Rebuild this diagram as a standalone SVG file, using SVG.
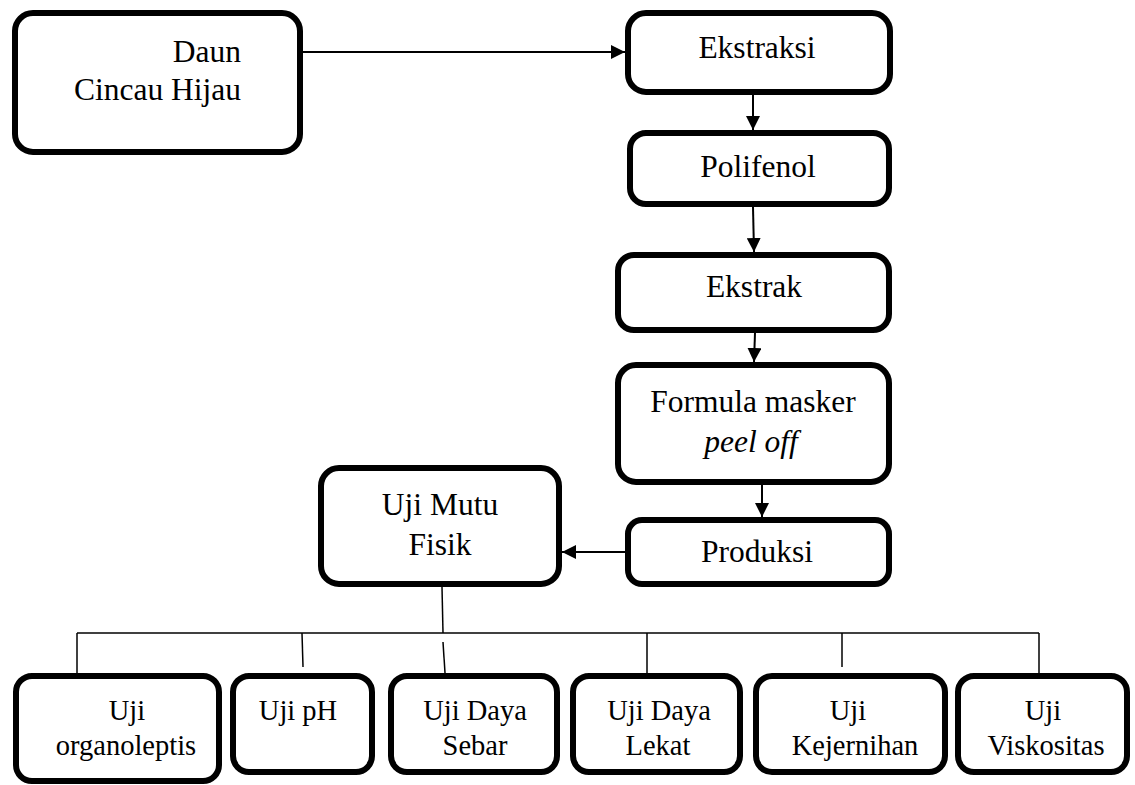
<svg xmlns="http://www.w3.org/2000/svg" width="1135" height="785" viewBox="0 0 1135 785">
<style>
.box{fill:#fff;stroke:#000;stroke-width:6}
text{font-family:'Liberation Serif','DejaVu Serif',serif;fill:#000;text-anchor:middle}
.t{font-size:31.5px}
.s{font-size:28.5px}
.arr{stroke:#000;stroke-width:2;fill:none;marker-end:url(#ah)}
.ln{stroke:#000;stroke-width:1.5;fill:none}
</style>
<defs>
<marker id="ah" viewBox="0 0 14 14" refX="14" refY="7" markerWidth="14" markerHeight="14" markerUnits="userSpaceOnUse" orient="auto">
<path d="M0,0 L14,7 L0,14 z" fill="#000"/>
</marker>
</defs>
<rect width="1135" height="785" fill="#fff"/>
<g id="connectors">
<line class="arr" x1="303" y1="52" x2="625" y2="52"/>
<line class="arr" x1="753" y1="95" x2="753" y2="130"/>
<line class="arr" x1="753" y1="207" x2="754" y2="252"/>
<line class="arr" x1="755" y1="333" x2="754" y2="362"/>
<line class="arr" x1="762" y1="485" x2="762" y2="517"/>
<line class="arr" x1="625" y1="552" x2="562" y2="552"/>
<line class="ln" x1="442" y1="587" x2="443" y2="633"/>
<line class="ln" x1="77" y1="633" x2="1039" y2="633"/>
<line class="ln" x1="77" y1="633" x2="77" y2="673"/>
<line class="ln" x1="302" y1="633" x2="303" y2="667"/>
<line class="ln" x1="443" y1="642" x2="445" y2="673"/>
<line class="ln" x1="647" y1="633" x2="647" y2="673"/>
<line class="ln" x1="842" y1="633" x2="842" y2="667"/>
<line class="ln" x1="1039" y1="633" x2="1039" y2="673"/>
</g>
<g id="daun">
<rect class="box" x="15" y="13" width="285" height="139" rx="18"/>
<text class="t" x="241" y="62" text-anchor="end" style="text-anchor:end">Daun</text>
<text class="t" x="241" y="100" text-anchor="end" style="text-anchor:end">Cincau Hijau</text>
</g>
<g id="ekstraksi">
<rect class="box" x="628" y="13" width="262" height="79" rx="18"/>
<text class="t" x="757" y="58">Ekstraksi</text>
</g>
<g id="polifenol">
<rect class="box" x="630" y="133" width="259" height="71" rx="16"/>
<text class="t" x="758" y="177">Polifenol</text>
</g>
<g id="ekstrak">
<rect class="box" x="618" y="255" width="271" height="75" rx="16"/>
<text class="t" x="754" y="297">Ekstrak</text>
</g>
<g id="formula">
<rect class="box" x="618" y="365" width="271" height="117" rx="18"/>
<text class="t" x="753" y="412">Formula masker</text>
<text class="t" x="751" y="452" font-style="italic" style="font-style:italic">peel off</text>
</g>
<g id="produksi">
<rect class="box" x="628" y="520" width="261" height="64" rx="14"/>
<text class="t" x="757" y="562">Produksi</text>
</g>
<g id="ujimutu">
<rect class="box" x="321" y="468" width="238" height="116" rx="18"/>
<text class="t" x="440" y="515">Uji Mutu</text>
<text class="t" x="440" y="555">Fisik</text>
</g>
<g id="organoleptis">
<rect class="box" x="16" y="676" width="203" height="105" rx="16"/>
<text class="s" x="127" y="720">Uji</text>
<text class="s" x="126" y="755">organoleptis</text>
</g>
<g id="ph">
<rect class="box" x="233" y="676" width="139" height="96" rx="16"/>
<text class="s" x="298" y="720">Uji pH</text>
</g>
<g id="sebar">
<rect class="box" x="391" y="676" width="166" height="96" rx="16"/>
<text class="s" x="475" y="720">Uji Daya</text>
<text class="s" x="475" y="755">Sebar</text>
</g>
<g id="lekat">
<rect class="box" x="573" y="676" width="167" height="96" rx="16"/>
<text class="s" x="659" y="720">Uji Daya</text>
<text class="s" x="658" y="755">Lekat</text>
</g>
<g id="kejernihan">
<rect class="box" x="756" y="676" width="189" height="96" rx="16"/>
<text class="s" x="848" y="720">Uji</text>
<text class="s" x="855" y="755">Kejernihan</text>
</g>
<g id="viskositas">
<rect class="box" x="958" y="676" width="169" height="96" rx="16"/>
<text class="s" x="1043" y="720">Uji</text>
<text class="s" x="1046" y="755">Viskositas</text>
</g>
</svg>
